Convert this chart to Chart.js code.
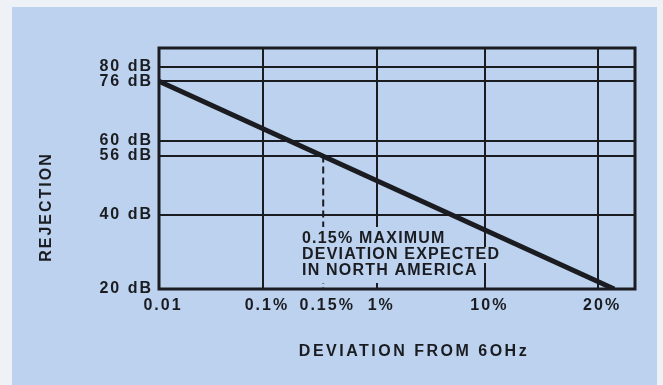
<!DOCTYPE html>
<html>
<head>
<meta charset="utf-8">
<script src="https://cdn.jsdelivr.net/npm/chart.js@4.4.1/dist/chart.umd.min.js"></script>
<style>
  html, body { margin: 0; padding: 0; background: #eef1f5; }
  #wrap { width: 663px; height: 385px; }
</style>
</head>
<body>
<div id="wrap"><canvas id="c" width="663" height="385"></canvas></div>
<script>
// ---- data ----
const categories = ['0.01', '0.1%', '0.15%', '1%', '10%', '20%'];
// position of each hand-drawn x label along the axis (axis units)
const categoryPositions = [0, 1, 1.58, 2.1, 3.14, 4.225];
const rejectionTicks = [20, 40, 56, 60, 76, 80];
const rejectionLabels = ['20 dB', '40 dB', '56 dB', '60 dB', '76 dB', '80 dB'];
const curveX = [0, 4.38];
const curveY = [76, 20];
const markerX = [1.58, 1.58];
const markerY = [56, 20];
const noteLines = ['0.15% MAXIMUM', 'DEVIATION EXPECTED', 'IN NORTH AMERICA'];
const yTitle = 'REJECTION';
const xTitle = 'DEVIATION FROM 6OHz';

const INK = '#1a1c21';
const BLUE = '#bcd2ee';
const FONT = '"Liberation Sans", Arial, sans-serif';

const curveData = curveX.map((x, i) => ({ x, y: curveY[i] }));
const markerData = markerX.map((x, i) => ({ x, y: markerY[i] }));

const decor = {
  id: 'decor',
  beforeDraw(chart) {
    const ctx = chart.ctx;
    ctx.save();
    ctx.fillStyle = '#eef1f5';
    ctx.fillRect(0, 0, chart.width, chart.height);
    ctx.fillStyle = BLUE;
    ctx.fillRect(12, 7, 645, chart.height - 7);
    ctx.restore();
    ctx.letterSpacing = '2px';
  },
  beforeDatasetsDraw(chart) {
    const { ctx, chartArea: a } = chart;
    ctx.save();
    ctx.strokeStyle = INK;
    ctx.lineWidth = 3;
    ctx.strokeRect(a.left, a.top, a.right - a.left, a.bottom - a.top);
    ctx.restore();
  },
  afterDatasetsDraw(chart) {
    const { ctx } = chart;
    ctx.save();
    // annotation text with masked background
    ctx.font = 'bold 16px ' + FONT;
    ctx.letterSpacing = '1.2px';
    ctx.textBaseline = 'middle';
    ctx.textAlign = 'left';
    const x0 = 302, y0 = 239, pitch = 16, n = noteLines.length;
    noteLines.forEach((t, i) => {
      const w = ctx.measureText(t).width;
      const top = y0 + i * pitch - (i === 0 ? 12 : pitch / 2);
      const bottom = y0 + i * pitch + (i === n - 1 ? 12 : pitch / 2);
      ctx.fillStyle = BLUE;
      ctx.fillRect(x0 - 4, top, w + 4, bottom - top);
    });
    ctx.fillStyle = INK;
    noteLines.forEach((t, i) => ctx.fillText(t, x0, y0 + i * pitch));
    // axis titles
    ctx.font = 'bold 16px ' + FONT;
    ctx.letterSpacing = '2.5px';
    ctx.textAlign = 'center';
    ctx.fillText(xTitle, 414, 352);
    ctx.letterSpacing = '2px';
    ctx.translate(47, 208);
    ctx.rotate(-Math.PI / 2);
    ctx.fillText(yTitle, 1, 0);
    ctx.restore();
  }
};

new Chart(document.getElementById('c'), {
  type: 'scatter',
  data: {
    datasets: [
      { data: markerData, showLine: true, borderColor: INK, borderWidth: 2, borderDash: [7, 4], pointRadius: 0 },
      { data: curveData, showLine: true, borderColor: INK, borderWidth: 5, pointRadius: 0 }
    ]
  },
  options: {
    responsive: false,
    animation: false,
    layout: { padding: { top: 48, right: 28, left: 0, bottom: 0 } },
    plugins: { legend: { display: false }, tooltip: { enabled: false } },
    scales: {
      x: {
        type: 'linear', min: 0, max: 4.58,
        afterBuildTicks: s => { s.ticks = categoryPositions.map(v => ({ value: v })); },
        afterFit: s => { s.height = 96; },
        ticks: {
          autoSkip: false, maxRotation: 0, minRotation: 0, padding: 7, labelOffset: 4,
          color: INK, font: { family: FONT, size: 16, weight: 'bold' },
          callback: (v, i) => categories[i]
        },
        grid: {
          drawTicks: false, lineWidth: 2,
          color: c => (c.index === 2 ? 'rgba(0,0,0,0)' : INK)
        },
        border: { display: false }
      },
      y: {
        type: 'linear', min: 20, max: 85,
        afterBuildTicks: s => { s.ticks = rejectionTicks.map(v => ({ value: v })); },
        afterFit: s => { s.width = 159; },
        ticks: {
          padding: 6, color: INK, font: { family: FONT, size: 16, weight: 'bold' },
          callback: (v, i) => rejectionLabels[i]
        },
        grid: { drawTicks: false, lineWidth: 2, color: INK },
        border: { display: false }
      }
    }
  },
  plugins: [decor]
});
</script>
</body>
</html>
